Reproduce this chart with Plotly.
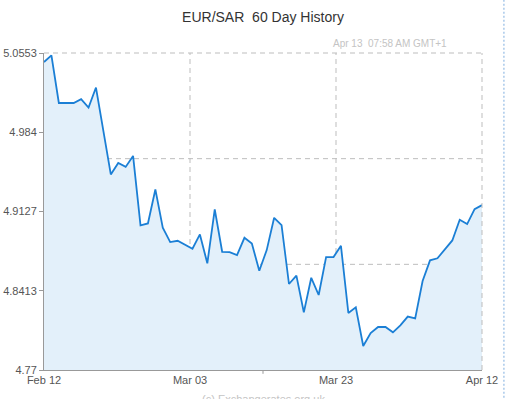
import plotly.graph_objects as go

title = "EUR/SAR  60 Day History"
stamp = "Apr 13  07:58 AM GMT+1"
credit = "(c) Exchangerates.org.uk"

rates = [5.0472, 5.0532, 5.0103, 5.0103, 5.0103, 5.0137, 5.0062, 5.0242, 4.9849, 4.9460,
         4.9564, 4.9528, 4.9627, 4.9001, 4.9019, 4.9325, 4.8981, 4.8851, 4.8863, 4.8824,
         4.8791, 4.8920, 4.8660, 4.9145, 4.8764, 4.8761, 4.8734, 4.8890, 4.8839, 4.8593,
         4.8779, 4.9070, 4.9004, 4.8474, 4.8550, 4.8219, 4.8530, 4.8375, 4.8716, 4.8716,
         4.8818, 4.8213, 4.8264, 4.7916, 4.8033, 4.8087, 4.8087, 4.8039, 4.8102, 4.8181,
         4.8165, 4.8501, 4.8687, 4.8705, 4.8788, 4.8866, 4.9052, 4.9013, 4.9148, 4.9184]
days = list(range(len(rates)))

x_ticktext = ["Feb 12", "Mar 03", "Mar 23", "Apr 12"]
y_tickvals = [4.77, 4.8413, 4.9127, 4.984, 5.0553]
y_ticktext = ["4.77", "4.8413", "4.9127", "4.984", "5.0553"]

n = len(rates) - 1
x_tickvals = [0, n / 3, 2 * n / 3, n]

fig = go.Figure()
fig.add_trace(go.Scatter(
    x=days, y=rates, mode="lines",
    line=dict(color="#1b7fd5", width=1.8),
    fill="tozeroy", fillcolor="#e3f0fa",
    hoverinfo="skip",
))

grid = dict(color="#bdbdbd", width=1, dash="5px,4px")
shapes = []
for f in (1 / 3, 2 / 3):
    shapes.append(dict(type="line", xref="x domain", yref="y domain", x0=f, x1=f, y0=0, y1=1,
                       line=grid, layer="below"))
    shapes.append(dict(type="line", xref="x domain", yref="y domain", x0=0, x1=1, y0=f, y1=f,
                       line=grid, layer="below"))
shapes.append(dict(type="line", xref="x domain", yref="y domain", x0=0, x1=1, y0=1, y1=1,
                   line=grid, layer="above"))
shapes.append(dict(type="line", xref="x domain", yref="y domain", x0=1, x1=1, y0=0, y1=1,
                   line=grid, layer="above"))
# small mid tick on x axis
shapes.append(dict(type="line", xref="x domain", yref="y domain", x0=0.5, x1=0.5, y0=0, y1=-0.012,
                   line=dict(color="#999", width=1), layer="above"))
# dotted page border on the right
shapes.append(dict(type="line", xref="paper", yref="paper", x0=1.05, x1=1.05, y0=-0.1, y1=1.2,
                   line=dict(color="#a9c9ea", width=1.5, dash="2px,2px")))

fig.update_layout(
    width=507, height=399,
    margin=dict(l=44, r=25, t=53, b=29),
    paper_bgcolor="white", plot_bgcolor="white",
    showlegend=False,
    font=dict(family="Liberation Sans, Arial, sans-serif", color="#555", size=11),
    title=dict(text=title, x=0.5, xref="paper", y=0.957, yanchor="middle",
               font=dict(size=14, color="#333")),
    shapes=shapes,
    annotations=[
        dict(text=stamp, xref="paper", yref="paper", x=0.925, y=1.005, xanchor="right",
             yanchor="bottom", showarrow=False, font=dict(size=10, color="#c4c4c4")),
        dict(text=credit, xref="paper", yref="paper", x=0.5, y=-0.067, xanchor="center",
             yanchor="top", showarrow=False, font=dict(size=11, color="#c4c4c4")),
    ],
    xaxis=dict(range=[0, n], tickvals=x_tickvals, ticktext=x_ticktext, showgrid=False,
               zeroline=False, showline=True, linecolor="#999", linewidth=1, ticks="",
               automargin=False, tickfont=dict(size=11, color="#555")),
    yaxis=dict(range=[4.77, 5.0553], tickvals=y_tickvals, ticktext=y_ticktext, showgrid=False,
               zeroline=False, showline=True, linecolor="#999", linewidth=1,
               ticks="outside", ticklen=4, tickcolor="#999", automargin=False,
               tickfont=dict(size=11, color="#555")),
)

fig.write_html("out.html")
